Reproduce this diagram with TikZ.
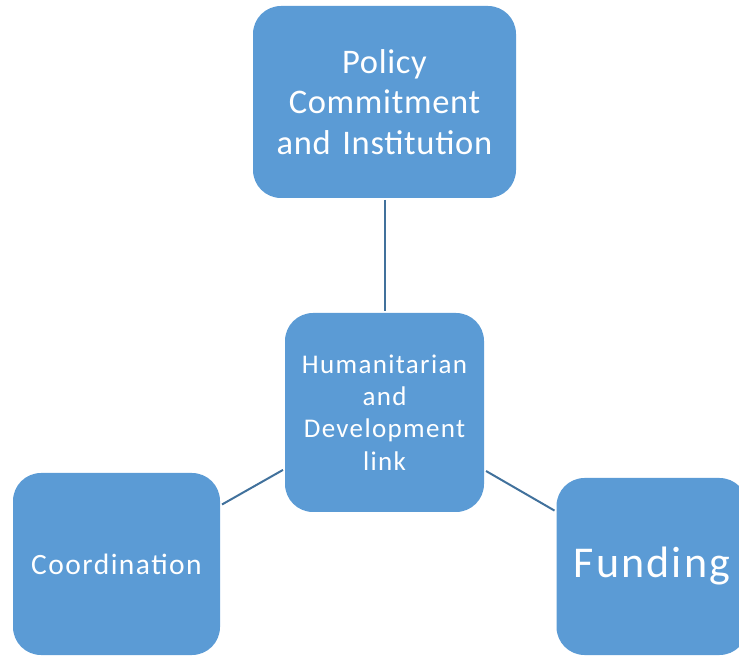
\documentclass[tikz,border=0pt]{standalone}
\usepackage{fontspec}
\setmainfont{Carlito}[LetterSpace=5]
\newfontfamily\titlefont{Carlito}[LetterSpace=2]
\usetikzlibrary{positioning}
\definecolor{BoxBlue}{HTML}{5B9BD5}
\definecolor{LinkBlue}{HTML}{41719C}

\begin{document}
\begin{tikzpicture}[x=1pt,y=1pt,
    box/.style={fill=BoxBlue,text=white,rounded corners=28pt,inner sep=0pt,outer sep=2pt,align=center},
    link/.style={LinkBlue,line width=2pt}]
  \clip (0,0) rectangle (739,659);
  \node[box,minimum width=199pt,minimum height=199pt,text width=190pt,font=\fontsize{27}{32.2}\selectfont] (hub) at (384.5,246.5) {Humanitarian\\and\\Development\\link};
  \node[box,minimum width=263pt,minimum height=192pt,text width=258pt,font=\titlefont\fontsize{34.5}{40.7}\selectfont,above=111pt of hub] (policy) {Policy\\Commitment\\and Institution};
  \node[box,minimum width=207pt,minimum height=182pt,text width=200pt,font=\fontsize{29.5}{35}\selectfont] (coord) at (116.5,95) {Coordination};
  \node[box,minimum width=191pt,minimum height=177pt,text width=185pt,font=\fontsize{44}{53}\selectfont] (fund) at (652,92.5) {Funding};
  \draw[link] (policy)--(hub);
  \draw[link] (hub)--(coord);
  \draw[link] (hub)--(fund);
\end{tikzpicture}
\end{document}
